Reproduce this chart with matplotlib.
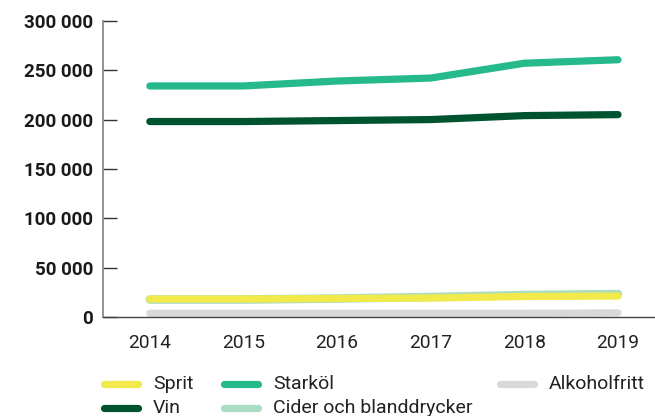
import matplotlib
matplotlib.use('Agg')
import matplotlib.pyplot as plt
from matplotlib.lines import Line2D
from matplotlib.ticker import FuncFormatter

plt.rcParams['font.family'] = ['Roboto', 'DejaVu Sans']

years = [2014, 2015, 2016, 2017, 2018, 2019]
sprit = [18500, 18500, 19000, 19500, 21000, 21500]
starkol = [234000, 234000, 239000, 242000, 257000, 260500]
vin = [198000, 198000, 199000, 200000, 204000, 205000]
cider = [18000, 18000, 19000, 20500, 22500, 23500]
alkoholfritt = [4000, 4000, 4000, 4000, 4000, 4500]

labels = ['Sprit', 'Starköl', 'Alkoholfritt', 'Vin', 'Cider och blanddrycker']
colors = {'Sprit': '#f2ea4a', 'Starköl': '#26b98b', 'Alkoholfritt': '#d9d9d9',
          'Vin': '#00532f', 'Cider och blanddrycker': '#a9dcc0'}

fig = plt.figure(figsize=(6.55, 4.16), dpi=100)
ax = fig.add_axes([103/655, 1-317.3/416, 1-103/655, (317.3-20.7)/416])

lw = 5.2
# draw order: grey, cider, sprit, vin, starköl
ax.plot(years, alkoholfritt, color=colors['Alkoholfritt'], lw=lw, solid_capstyle='round', zorder=1)
ax.plot(years, cider, color=colors['Cider och blanddrycker'], lw=lw+1, solid_capstyle='round', zorder=2)
ax.plot(years, sprit, color=colors['Sprit'], lw=lw, solid_capstyle='round', zorder=3)
ax.plot(years, vin, color=colors['Vin'], lw=lw, solid_capstyle='round', zorder=3)
ax.plot(years, starkol, color=colors['Starköl'], lw=lw, solid_capstyle='round', zorder=3)

ax.set_xlim(2013.5, 2019.395)
ax.set_ylim(0, 300000)
ax.set_xticks(years)
ax.set_yticks(range(0, 300001, 50000))
ax.yaxis.set_major_formatter(FuncFormatter(lambda v, p: f'{int(v):,}'.replace(',', ' ')))

for s in ['top', 'right']:
    ax.spines[s].set_visible(False)
ax.spines['left'].set_color('#8a8a8a')
ax.spines['left'].set_linewidth(1.3)
ax.spines['bottom'].set_color('#444444')
ax.spines['bottom'].set_linewidth(1.0)

ax.tick_params(axis='y', direction='in', length=10, width=1.0, color='#333333', pad=7,
               labelsize=13.5, labelcolor='#1a1a1a')
for t in ax.get_yticklabels():
    t.set_fontweight('bold')
ax.tick_params(axis='x', length=0, pad=12, labelsize=13.8, labelcolor='#222222')

# legend, laid out by hand
entries = [('Sprit', 100, 384), ('Vin', 100, 408),
           ('Starköl', 220, 384), ('Cider och blanddrycker', 220, 408),
           ('Alkoholfritt', 496, 384)]
for name, x0, y0 in entries:
    yf = 1 - y0/416
    fig.add_artist(Line2D([x0/655 + 0.006, (x0+42)/655 - 0.006], [yf, yf],
                          transform=fig.transFigure, color=colors[name],
                          lw=5.2, solid_capstyle='round'))
    fig.text((x0+53)/655, yf, name, fontsize=14, color='#222222', va='center', ha='left')

fig.savefig('out.png', dpi=100)
